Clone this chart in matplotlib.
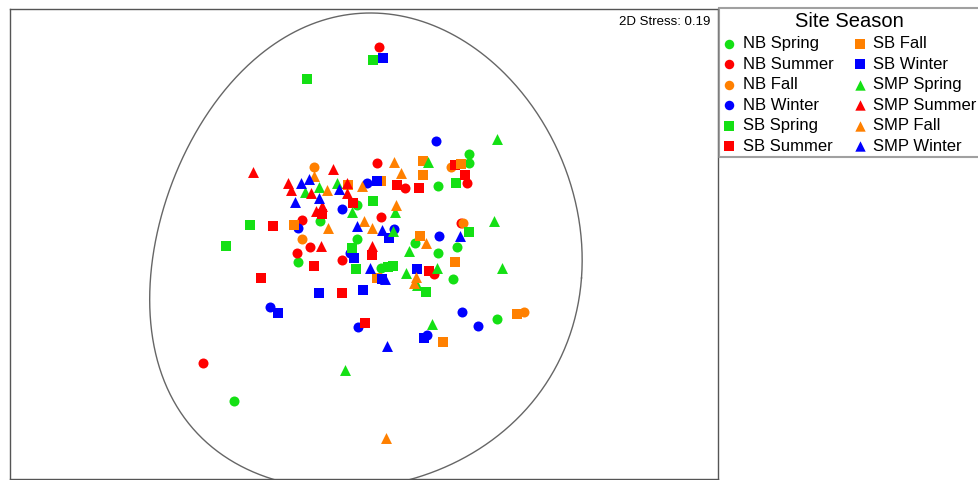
import matplotlib
matplotlib.use("Agg")
import matplotlib.pyplot as plt
import numpy as np

plt.rcParams['font.family'] = ['Liberation Sans', 'DejaVu Sans']

# NMDS ordination scores per site/season group
nb_spring_x = [1.04, 1.04, 0.73, -0.08, -0.45, -0.08, 0.50, 0.73, 0.92, -0.67, 0.88, 1.32, -1.31, 0.16]
nb_spring_y = [0.96, 0.87, 0.64, 0.45, 0.29, 0.11, 0.07, -0.03, 0.03, -0.12, -0.29, -0.69, -1.51, -0.18]

nb_summer_x = [0.14, 0.12, 0.40, 1.02, -0.63, 0.16, -0.55, -0.68, -0.23, 0.69, 0.96, -1.62]
nb_summer_y = [2.03, 0.87, 0.62, 0.67, 0.30, 0.33, 0.03, -0.03, -0.10, -0.24, 0.27, -1.13]

nb_fall_x = [-0.51, 0.86, 0.98, -0.63, 1.59]
nb_fall_y = [0.83, 0.83, 0.27, 0.11, -0.62]

nb_winter_x = [0.71, 0.02, -0.23, -0.67, 0.29, 0.74, -0.15, 0.97, 1.13, -0.95, -0.07, 0.62]
nb_winter_y = [1.09, 0.67, 0.41, 0.22, 0.21, 0.14, -0.03, -0.62, -0.76, -0.57, -0.77, -0.85]

sb_spring_x = [-0.58, 0.08, 0.91, 0.08, -1.15, -1.39, -0.13, -0.09, 1.04, 0.61, 0.23, 0.28]
sb_spring_y = [1.71, 1.90, 0.67, 0.49, 0.25, 0.04, 0.02, -0.19, 0.18, -0.42, -0.17, -0.16]

sb_summer_x = [0.32, 0.54, 1.00, 0.90, -0.12, -0.92, 0.07, -0.51, -1.04, -0.23, 0.64, 0.00, -0.43]
sb_summer_y = [0.65, 0.62, 0.75, 0.85, 0.47, 0.24, -0.05, -0.16, -0.28, -0.43, -0.21, -0.73, 0.36]

sb_fall_x = [0.58, 0.96, 0.58, -0.17, 0.16, -0.71, 0.55, 0.90, 0.12, 1.52, 0.78]
sb_fall_y = [0.89, 0.86, 0.75, 0.65, 0.69, 0.25, 0.14, -0.12, -0.28, -0.64, -0.92]

sb_winter_x = [0.18, 0.12, -0.11, 0.24, 0.52, 0.17, -0.02, -0.46, -0.87, 0.59]
sb_winter_y = [1.92, 0.69, -0.08, 0.12, -0.19, -0.29, -0.40, -0.43, -0.63, -0.88]

smp_spring_x = [1.32, 0.63, -0.60, -0.46, -0.28, -0.13, 0.30, 0.28, 0.44, 0.41, 0.72, 0.52, 1.29, 1.37, 0.67, -0.20]
smp_spring_y = [1.11, 0.88, 0.58, 0.63, 0.67, 0.38, 0.38, 0.19, -0.01, -0.23, -0.18, -0.35, 0.29, -0.18, -0.74, -1.20]

smp_summer_x = [-1.12, -0.32, -0.77, -0.74, -0.54, -0.18, -0.18, -0.49, -0.43, -0.44, 0.07]
smp_summer_y = [0.78, 0.81, 0.67, 0.60, 0.57, 0.67, 0.57, 0.39, 0.44, 0.04, 0.04]

smp_fall_x = [-0.51, 0.29, 0.36, -0.38, -0.03, -0.01, 0.07, 0.31, -0.37, 0.61, 0.51, 0.49, 0.21]
smp_fall_y = [0.74, 0.88, 0.77, 0.60, 0.64, 0.29, 0.22, 0.45, 0.22, 0.07, -0.27, -0.33, -1.88]

smp_winter_x = [-0.64, -0.56, -0.26, -0.46, -0.70, -0.08, 0.17, 0.05, 0.20, 0.95, 0.22]
smp_winter_y = [0.67, 0.71, 0.61, 0.52, 0.48, 0.24, 0.20, -0.18, -0.29, 0.14, -0.96]

labels = ["NB Spring", "NB Summer", "NB Fall", "NB Winter",
          "SB Spring", "SB Summer", "SB Fall", "SB Winter",
          "SMP Spring", "SMP Summer", "SMP Fall", "SMP Winter"]
xs = [nb_spring_x, nb_summer_x, nb_fall_x, nb_winter_x,
      sb_spring_x, sb_summer_x, sb_fall_x, sb_winter_x,
      smp_spring_x, smp_summer_x, smp_fall_x, smp_winter_x]
ys = [nb_spring_y, nb_summer_y, nb_fall_y, nb_winter_y,
      sb_spring_y, sb_summer_y, sb_fall_y, sb_winter_y,
      smp_spring_y, smp_summer_y, smp_fall_y, smp_winter_y]

season_colors = {"Spring": "#14e014", "Summer": "#ff0000", "Fall": "#ff8000", "Winter": "#0000ff"}
site_markers = {"NB": ("o", 52), "SB": ("s", 50), "SMP": ("^", 62)}

fig = plt.figure(figsize=(9.79, 4.8), dpi=100)
ax = fig.add_axes([10 / 979, 1 / 480, 707.5 / 979, 470 / 480])

handles = []
for lab, x, y in zip(labels, xs, ys):
    site, season = lab.split()
    mk, sz = site_markers[site]
    h = ax.scatter(x, y, marker=mk, s=sz, color=season_colors[season],
                   linewidths=0, label=lab, zorder=3)
    handles.append(h)

# Smooth egg-shaped group outline (narrower towards the top)
t = np.linspace(0, 2 * np.pi, 720)
s = np.sin(t)
c = np.cos(t)
yc = -0.28
half_h = 2.38 - 0.27 * s
ey = yc - half_h * s
d = ey - yc
xmid = 0.01 + 0.075 * d - 0.022 * d ** 2
ex = xmid + 2.155 * c
ax.plot(ex, ey, color="#666666", lw=1.0, zorder=2)

ax.set_xlim(-3.55, 3.525)
ax.set_ylim(-2.29, 2.41)
ax.set_xticks([])
ax.set_yticks([])
for sp in ax.spines.values():
    sp.set_color("#555555")
    sp.set_linewidth(1.0)

ax.text(0.99, 0.985, "2D Stress: 0.19", transform=ax.transAxes,
        ha="right", va="top", fontsize=9.5)

leg = fig.legend(handles=handles, loc="upper left",
                 bbox_to_anchor=(719 / 979, 1 - 8 / 480), borderaxespad=0,
                 ncol=2, fontsize=12, title="Site Season", title_fontsize=14.5,
                 frameon=True, fancybox=False, edgecolor="#888888",
                 handlelength=0.8, handletextpad=0.4, columnspacing=1.2,
                 labelspacing=0.33, borderpad=0.22, markerscale=0.95)
leg.get_frame().set_linewidth(1.5)

fig.savefig("out.png", dpi=100)
